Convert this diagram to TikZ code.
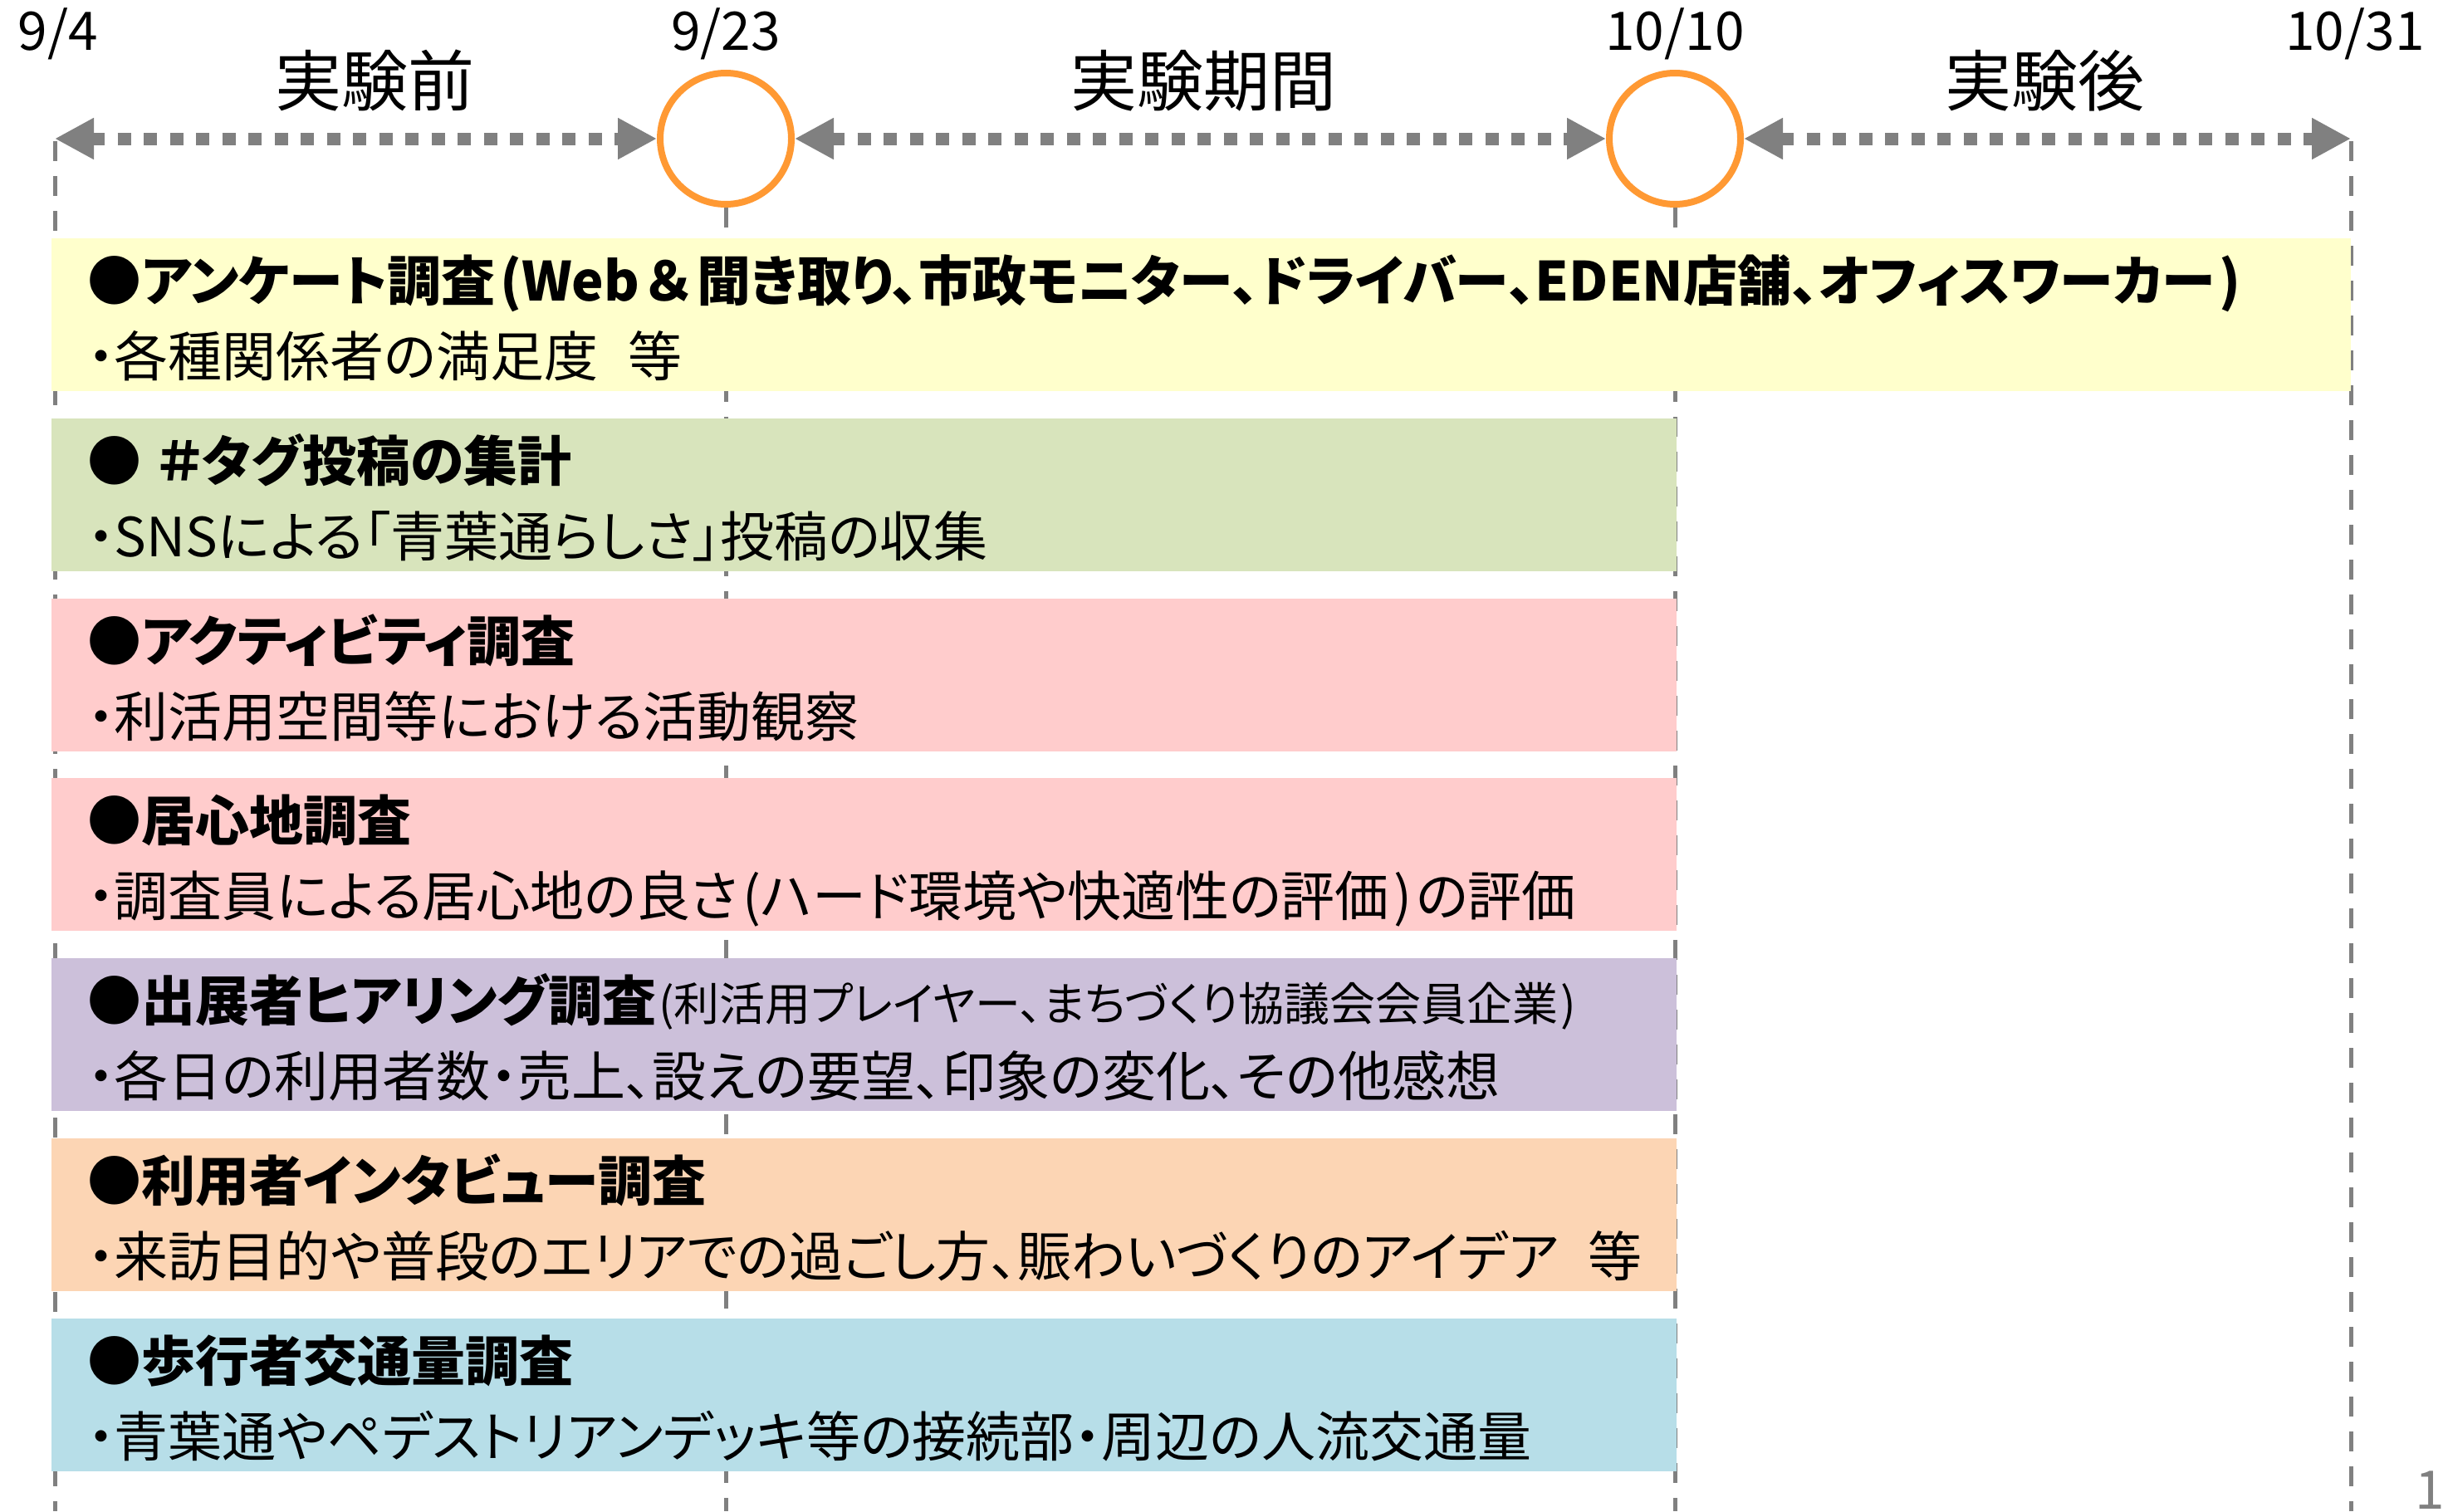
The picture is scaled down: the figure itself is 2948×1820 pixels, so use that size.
\documentclass[tikz,border=0pt]{standalone}
\usepackage{fontspec}
\setmainfont{Noto Sans CJK JP}[RawFeature={+palt}]
\usetikzlibrary{arrows.meta}
\definecolor{lgray}{HTML}{808080}
\definecolor{mileorange}{HTML}{FF9933}
\definecolor{cyellow}{HTML}{FFFFCC}
\definecolor{cgreen}{HTML}{D8E4BC}
\definecolor{cpink}{HTML}{FFCCCC}
\definecolor{cpurple}{HTML}{CCC0DA}
\definecolor{corange}{HTML}{FCD5B4}
\definecolor{cblue}{HTML}{B7DEE8}
\newcommand{\fwamp}{\hspace{0.12em}＆\hspace{0.12em}}
\begin{document}
\begin{tikzpicture}[x=0.5pt,y=-0.5pt,
  periodarrow/.style={draw=lgray, line width=7.5pt, dash pattern=on 8pt off 7.75pt,
     {Triangle[length=23.5pt,width=23.5pt]}-{Triangle[length=23.5pt,width=23.5pt]}},
  vline/.style={draw=lgray, line width=2.5pt, dash pattern=on 12pt off 9pt},
  milestone/.style={circle, draw=mileorange, line width=4pt, minimum size=79pt, inner sep=0pt, fill=white},
  datelbl/.style={anchor=base, inner sep=0pt, font=\fontsize{32pt}{36pt}\selectfont},
  phaselbl/.style={anchor=base, inner sep=0pt, font=\fontsize{40pt}{44pt}\selectfont},
  band/.style={rectangle, anchor=north west, inner sep=0pt, outer sep=0pt, minimum height=92pt, minimum width=978.5pt},
  ttl/.style={anchor=base west, inner sep=0pt, font=\fontsize{32.5pt}{36pt}\selectfont\bfseries},
  subl/.style={anchor=base west, inner sep=0pt, font=\fontsize{32.5pt}{36pt}\selectfont},
]
\useasboundingbox (0,0) rectangle (2948,1820);
\fill[white] (0,0) rectangle (2948,1820);

% timeline
\node[milestone] (c1) at (874,167) {};
\node[milestone] (c2) at (2017,167) {};
\coordinate (s) at (66,167);
\coordinate (e) at (2831,167);
\draw[periodarrow] (s) -- (c1.west);
\draw[periodarrow] (c1.east) -- (c2.west);
\draw[periodarrow] (c2.east) -- (e);

\node[datelbl] (d1) at (70,60) {9/4};
\node[datelbl] (d2) at (874,60) {9/23};
\node[datelbl] (d3) at (2017,60) {10/10};
\node[datelbl] (d4) at (2836,60) {10/31};

\node[phaselbl] (p1) at (451,127) {実験前};
\node[phaselbl] (p2) at (1449,127) {実験期間};
\node[phaselbl] (p3) at (2462,127) {実験後};

% vertical dashed guides
\coordinate (v1t) at (66,170);
\coordinate (v1b) at (66,1820);
\coordinate (v2b) at (874,1820);
\coordinate (v3b) at (2017,1820);
\coordinate (v4t) at (2831,170);
\coordinate (v4b) at (2831,1820);
\draw[vline] (v1t) -- (v1b);
\draw[vline] (c1.south) -- (v2b);
\draw[vline] (c2.south) -- (v3b);
\draw[vline] (v4t) -- (v4b);

% bands
\node[band, fill=cyellow, minimum width=1384.5pt] (b1) at (62,287) {};
\node[band, fill=cgreen] (b2) at (62,503.8) {};
\node[band, fill=cpink] (b3) at (62,720.6) {};
\node[band, fill=cpink] (b4) at (62,937.4) {};
\node[band, fill=cpurple] (b5) at (62,1154.2) {};
\node[band, fill=corange] (b6) at (62,1371) {};
\node[band, fill=cblue] (b7) at (62,1587.8) {};

% texts
\node[ttl] (t1) at (105,362.5) {●アンケート調査\hspace{0.08em}(Web\fwamp 聞き取り、市政モニター、ドライバー、EDEN店舗、オフィスワーカー\hspace{0.08em})};
\node[subl] (s1) at (105,453.5) {・各種関係者の満足度\hspace{0.55em}等};
\node[ttl] (t2) at (105,579.3) {●\hspace{0.3em}＃タグ投稿の集計};
\node[subl] (s2) at (105,670.3) {・SNSによる「青葉通らしさ」投稿の収集};
\node[ttl] (t3) at (105,796.1) {●アクティビティ調査};
\node[subl] (s3) at (105,887.1) {・利活用空間等における活動観察};
\node[ttl] (t4) at (105,1012.9) {●居心地調査};
\node[subl] (s4) at (105,1103.9) {・調査員による居心地の良さ\hspace{0.08em}(ハード環境や快適性の評価\hspace{0.08em})\hspace{0.08em}の評価};
\node[ttl] (t5) at (105,1229.7) {●出展者ヒアリング調査{\mdseries\fontsize{27.5pt}{30pt}\selectfont\hspace{0.05em}(利活用プレイヤー、まちづくり協議会会員企業\hspace{0.05em})}};
\node[subl] (s5) at (105,1320.7) {・各日の利用者数・売上、設えの要望、印象の変化、その他感想};
\node[ttl] (t6) at (105,1446.5) {●利用者インタビュー調査};
\node[subl] (s6) at (105,1537.5) {・来訪目的や普段のエリアでの過ごし方、賑わいづくりのアイデア\hspace{0.55em}等};
\node[ttl] (t7) at (105,1663.3) {●歩行者交通量調査};
\node[subl] (s7) at (105,1754.3) {・青葉通やペデストリアンデッキ等の接続部・周辺の人流交通量};

\node[anchor=base west, inner sep=0pt, text=lgray, font=\fontsize{32pt}{36pt}\selectfont] (pg) at (2908,1817) {1};
\end{tikzpicture}
\end{document}
